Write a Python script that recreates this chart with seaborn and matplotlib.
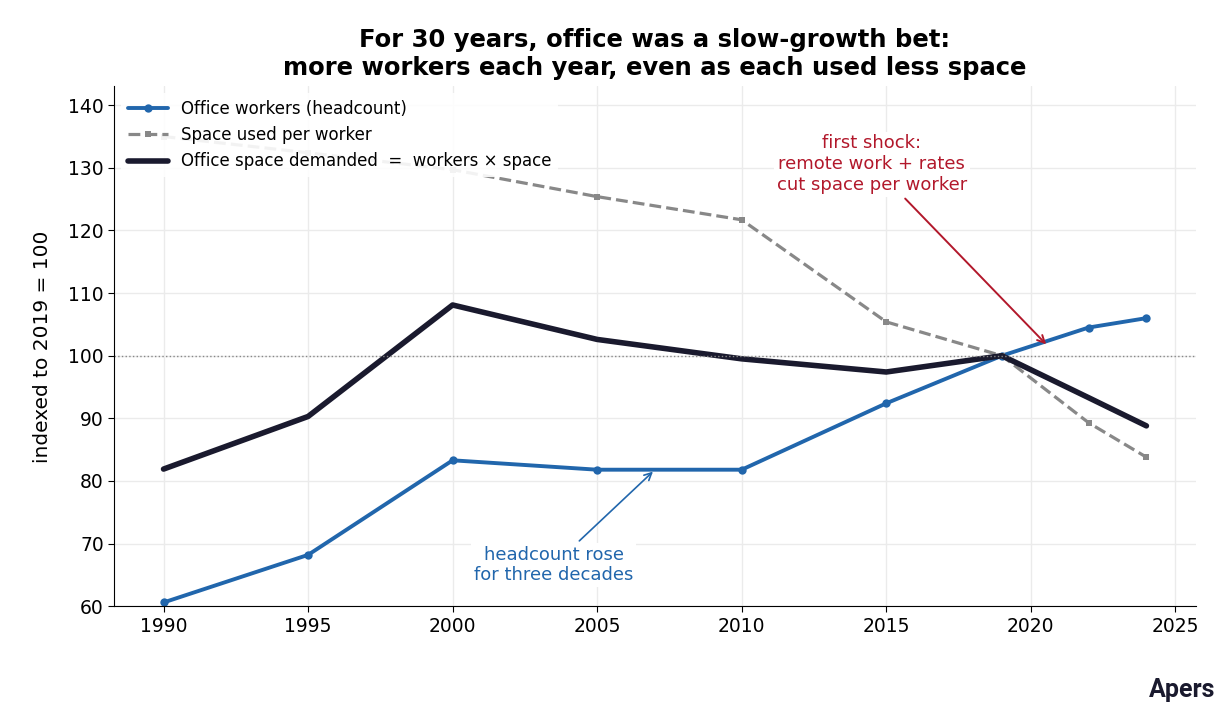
import matplotlib
matplotlib.use("Agg")
import matplotlib.pyplot as plt
import seaborn as sns
import pandas as pd

years = [1990, 1995, 2000, 2005, 2010, 2015, 2019, 2022, 2024]
workers = [60.6, 68.2, 83.3, 81.8, 81.8, 92.4, 100, 104.5, 106.0]
space_per_worker = [135.0, 132.4, 129.7, 125.4, 121.7, 105.4, 100, 89.3, 83.8]
demand = [81.9, 90.3, 108.1, 102.6, 99.5, 97.4, 100, 93.3, 88.8]

df = pd.DataFrame({"year": years, "workers": workers,
                   "space": space_per_worker, "demand": demand})

sns.set_style("white")
plt.rcParams["font.family"] = ["DejaVu Sans"]
plt.rcParams["text.color"] = "black"
plt.rcParams["axes.labelcolor"] = "black"
plt.rcParams["xtick.color"] = "black"
plt.rcParams["ytick.color"] = "black"
fig, ax = plt.subplots(figsize=(12.3, 7.2), dpi=100)

blue = "#2166ac"
sns.lineplot(data=df, x="year", y="workers", ax=ax, color=blue, lw=2.8,
             marker="o", markersize=6, markeredgewidth=0,
             label="Office workers (headcount)")
sns.lineplot(data=df, x="year", y="space", ax=ax, color="#888888", lw=2.3,
             linestyle="--", marker="s", markersize=5, markeredgewidth=0,
             label="Space used per worker")
sns.lineplot(data=df, x="year", y="demand", ax=ax, color="#1a1a2e", lw=4,
             label="Office space demanded  =  workers × space")

ax.axhline(100, color="#888888", lw=1, ls=":")
ax.set_ylim(60, 143)
ax.set_xlim(1988.3, 2025.7)
ax.set_yticks(range(60, 141, 10))
ax.grid(True, color="#ebebeb", lw=1)
ax.set_axisbelow(True)
for s in ["top", "right"]:
    ax.spines[s].set_visible(False)
ax.spines["left"].set_color("black")
ax.spines["bottom"].set_color("black")
ax.tick_params(labelsize=13.5, length=4, left=True, bottom=True)
ax.set_xlabel("")
ax.set_ylabel("indexed to 2019 = 100", fontsize=14.5, labelpad=12)
ax.set_title("For 30 years, office was a slow-growth bet:\nmore workers each year, even as each used less space",
             fontsize=17.5, fontweight="bold", pad=8)

leg = ax.legend(loc="upper left", fontsize=12, frameon=True, framealpha=0.9,
                edgecolor="none", borderaxespad=0.4, handlelength=2.4)

ax.annotate("first shock:\nremote work + rates\ncut space per worker",
            xy=(2020.6, 101.5), xytext=(2014.5, 130.6), ha="center", va="center",
            fontsize=13, color="#b2182b",
            bbox=dict(fc="white", ec="none", pad=2),
            arrowprops=dict(arrowstyle="->", color="#b2182b", lw=1.4))
ax.annotate("headcount rose\nfor three decades",
            xy=(2007, 81.8), xytext=(2003.5, 66.6), ha="center", va="center",
            fontsize=13, color=blue,
            bbox=dict(fc="white", ec="none", pad=2),
            arrowprops=dict(arrowstyle="->", color=blue, lw=1.2))

fig.subplots_adjust(left=0.093, right=0.972, top=0.88, bottom=0.158)
fig.text(0.988, 0.025, "Apers", ha="right", va="bottom", fontsize=18,
         fontweight="bold", color="#1a1a2e", family="Roboto")
fig.savefig("out.png", dpi=100)
